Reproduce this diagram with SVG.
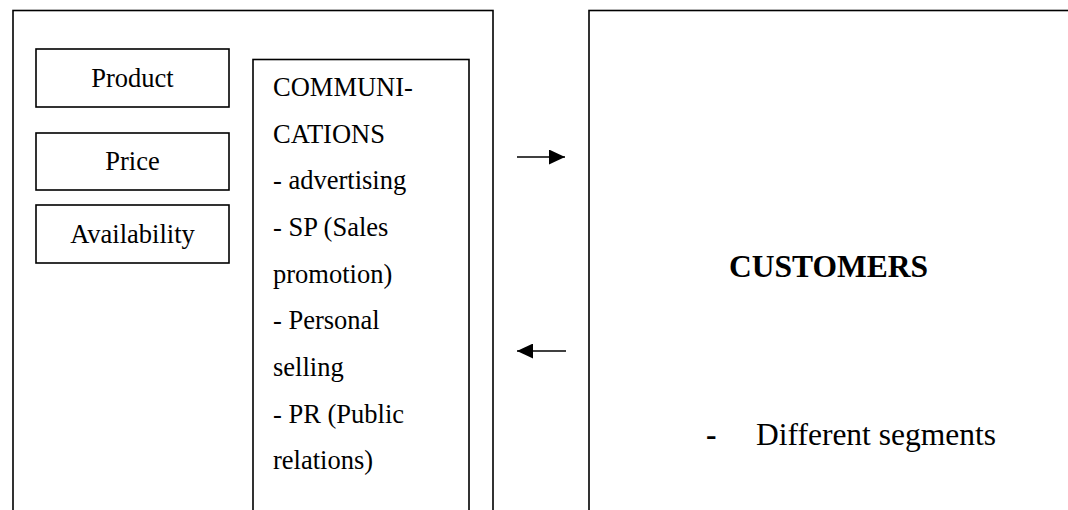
<svg xmlns="http://www.w3.org/2000/svg" width="1068" height="510" viewBox="0 0 1068 510">
<style>
.box{fill:none;stroke:#000;stroke-width:1.6}
.t{font-family:"Liberation Serif","Times New Roman",serif;font-size:26.5px;fill:#000}
.c{text-anchor:middle}
.big{font-family:"Liberation Serif","Times New Roman",serif;font-size:31.5px;fill:#000}
.conn{stroke:#000;stroke-width:1.6;fill:none}
</style>
<defs>
<marker id="ah" markerWidth="16" markerHeight="15" refX="16" refY="7.5" orient="auto" markerUnits="userSpaceOnUse">
<path d="M0,0 L16,7.5 L0,15 Z" fill="#000"/>
</marker>
</defs>
<rect width="1068" height="510" fill="#fff"/>
<g id="company">
<rect class="box" x="13" y="10.5" width="480" height="520"/>
</g>
<g id="product">
<rect class="box" x="36" y="49" width="193" height="58"/>
<text class="t c" x="132.5" y="86.5">Product</text>
</g>
<g id="price">
<rect class="box" x="36" y="133" width="193" height="57"/>
<text class="t c" x="132.5" y="170">Price</text>
</g>
<g id="availability">
<rect class="box" x="36" y="205" width="193" height="58"/>
<text class="t c" x="132.5" y="243">Availability</text>
</g>
<g id="communications">
<rect class="box" x="253" y="59.5" width="216" height="470"/>
<text class="t" x="273" y="96">COMMUNI-</text>
<text class="t" x="273" y="142.7">CATIONS</text>
<text class="t" x="273" y="189.3">- advertising</text>
<text class="t" x="273" y="236">- SP (Sales</text>
<text class="t" x="273" y="282.7">promotion)</text>
<text class="t" x="273" y="329.3">- Personal</text>
<text class="t" x="273" y="376">selling</text>
<text class="t" x="273" y="422.7">- PR (Public</text>
<text class="t" x="273" y="469.3">relations)</text>
</g>
<g id="customers">
<rect class="box" x="589" y="10.5" width="520" height="520"/>
<text class="big" x="729" y="277" font-weight="bold">CUSTOMERS</text>
<text class="big" x="706" y="445" font-weight="bold">-</text>
<text class="big" x="756" y="445">Different segments</text>
</g>
<g id="connectors">
<line class="conn" x1="517" y1="157" x2="565" y2="157" marker-end="url(#ah)"/>
<line class="conn" x1="566" y1="351" x2="517" y2="351" marker-end="url(#ah)"/>
</g>
</svg>
